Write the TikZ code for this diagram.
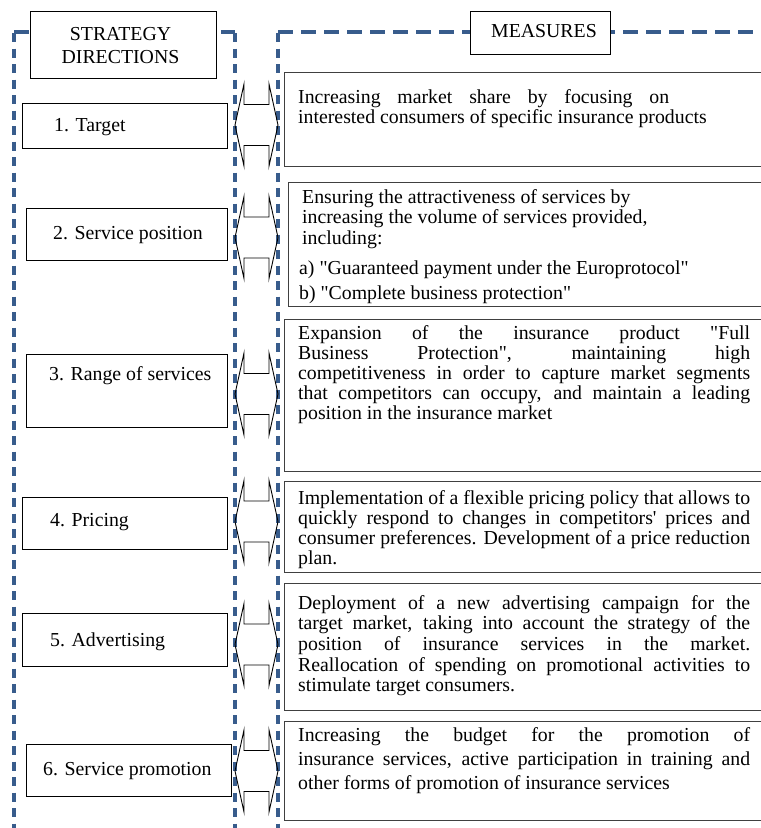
\documentclass[tikz,border=0pt]{standalone}
\usepackage{fontspec}
\setmainfont{Liberation Serif}[Ligatures=TeXOff]
\usetikzlibrary{calc}
\definecolor{dashblue}{HTML}{385C8C}
\definecolor{rboxgray}{HTML}{404040}
\newcommand{\jl}[2]{\makebox[#1pt][s]{#2}}
\newcommand{\dblarrow}[2]{%
  \coordinate (#1) at (256.5,#2);
  \draw[arrowshape] ($(#1)+(-21.5,0)$) -- ++(9,-41) -- ++(0,20.5) -- ++(25,0) -- ++(0,-20.5)
    -- ($(#1)+(21.5,0)$) -- ++(-9,41) -- ++(0,-20.5) -- ++(-25,0) -- ++(0,20.5) -- cycle;}
\begin{document}
\begin{tikzpicture}[x=1pt,y=-1pt,
  dashv/.style={draw=dashblue,line width=3.2pt,dash pattern=on 9pt off 6.5pt},
  dashh/.style={draw=dashblue,line width=3.2pt,dash pattern=on 15pt off 8pt},
  lbox/.style={draw=black,line width=1pt,fill=white,anchor=north west,inner sep=0pt},
  rbox/.style={draw=rboxgray,line width=1.4pt,fill=white,anchor=north west,inner sep=0pt,minimum width=491pt},
  hbox/.style={draw=black,line width=1pt,fill=white,anchor=north west,inner sep=0pt},
  ltext/.style={anchor=base west,inner sep=0pt,font=\fontsize{19.8}{24}\selectfont},
  rtext/.style={anchor=base west,inner sep=0pt,font=\fontsize{19.8}{20.7}\selectfont},
  arrowshape/.style={draw=black,line width=0.9pt,line join=miter}]
\useasboundingbox (0,0) rectangle (761,828);
\clip (0,0) rectangle (761,828);
% dashed containers
\draw[dashh] (14,32) -- (235,32);
\draw[dashv] (14,33) -- (14,830);
\draw[dashv] (235,33) -- (235,830);
\draw[dashh] (278,32) -- (775,32);
\draw[dashv] (278,33) -- (278,830);
% headers
\node[hbox,minimum width=186pt,minimum height=67pt] (hstrat) at (30,11) {};
\node[anchor=base,inner sep=0pt,align=center,font=\fontsize{19.8}{23}\selectfont] (tstrat) at (120.5,63) {STRATEGY\\DIRECTIONS};
\node[hbox,minimum width=140pt,minimum height=43pt] (hmeas) at (470,11) {};
\node[anchor=base,inner sep=0pt,font=\fontsize{19.8}{23}\selectfont] (tmeas) at (544,37) {MEASURES};
% left boxes
\node[lbox,minimum width=205pt,minimum height=45pt] (l1) at (22,103) {};
\node[lbox,minimum width=201pt,minimum height=52pt] (l2) at (26,208) {};
\node[lbox,minimum width=201pt,minimum height=73pt] (l3) at (26,354) {};
\node[lbox,minimum width=205pt,minimum height=52pt] (l4) at (22,497) {};
\node[lbox,minimum width=205pt,minimum height=53pt] (l5) at (22,613) {};
\node[lbox,minimum width=205pt,minimum height=52pt] (l6) at (26,744) {};
\node[ltext] (lt1) at (54,131) {1. Target};
\node[ltext] (lt2) at (53,239) {2. Service position};
\node[ltext] (lt3) at (49,380) {3. Range of services};
\node[ltext] (lt4) at (50,526) {4. Pricing};
\node[ltext] (lt5) at (50,646) {5. Advertising};
\node[ltext] (lt6) at (43,775) {6. Service promotion};
% right boxes
\node[rbox,minimum height=94pt] (r1) at (284,72) {};
\node[rbox,minimum height=124pt,minimum width=487pt] (r2) at (288,182) {};
\node[rbox,minimum height=152pt] (r3) at (284,319) {};
\node[rbox,minimum height=91pt] (r4) at (284,481) {};
\node[rbox,minimum height=127pt] (r5) at (284,583) {};
\node[rbox,minimum height=99pt] (r6) at (284,721) {};
\node[rtext] (rt1) at (298,103) {\parbox[t]{460pt}{\jl{371}{Increasing market share by focusing on}\\
interested consumers of specific insurance products}};
\node[rtext] (rt2) at (302,203) {\parbox[t]{460pt}{\fontsize{19.8}{20.5}\selectfont Ensuring the attractiveness of services by\\
increasing the volume of services provided,\\
including:\\[9.5pt]
\hspace*{-3pt}a) "Guaranteed payment under the Europrotocol"\\[4.5pt]
\hspace*{-3pt}b) "Complete business protection"}};
\node[rtext] (rt3) at (298,339) {\parbox[t]{460pt}{\fontsize{19.8}{20}\selectfont
\jl{452}{Expansion of the insurance product "Full}\\
\jl{452}{Business Protection", maintaining high}\\
\jl{452}{competitiveness in order to capture market segments}\\
\jl{452}{that competitors can occupy, and maintain a leading}\\
position in the insurance market}};
\node[rtext] (rt4) at (298,504) {\parbox[t]{460pt}{\fontsize{19.8}{20}\selectfont
\jl{452}{Implementation of a flexible pricing policy that allows to}\\
\jl{452}{quickly respond to changes in competitors' prices and}\\
\jl{452}{consumer preferences. Development of a price reduction}\\
plan.}};
\node[rtext] (rt5) at (298,609) {\parbox[t]{460pt}{\fontsize{19.8}{20.7}\selectfont
\jl{452}{Deployment of a new advertising campaign for the}\\
\jl{452}{target market, taking into account the strategy of the}\\
\jl{452}{position of insurance services in the market.}\\
\jl{452}{Reallocation of spending on promotional activities to}\\
stimulate target consumers.}};
\node[rtext] (rt6) at (298,741) {\parbox[t]{460pt}{\fontsize{19.8}{24}\selectfont
\jl{452}{Increasing the budget for the promotion of}\\
\jl{452}{insurance services, active participation in training and}\\
other forms of promotion of insurance services}};
% double arrows between directions and measures
\dblarrow{a1}{125}
\dblarrow{a2}{237.5}
\dblarrow{a3}{394}
\dblarrow{a4}{521.5}
\dblarrow{a5}{644.5}
\dblarrow{a6}{771}
\end{tikzpicture}
\end{document}
